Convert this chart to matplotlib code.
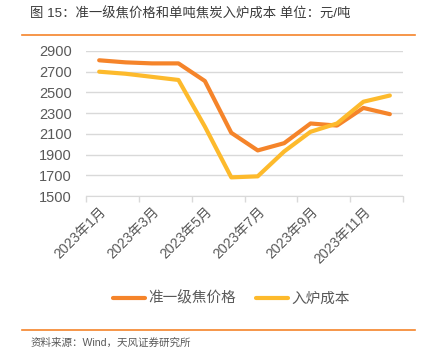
import matplotlib.pyplot as plt
import numpy as np

plt.rcParams['font.family'] = ['Liberation Sans', 'Noto Sans CJK SC', 'DejaVu Sans']

# -------------------------------------------------
# Data
# -------------------------------------------------
months = ['2023年1月', '2023年2月', '2023年3月', '2023年4月', '2023年5月', '2023年6月',
          '2023年7月', '2023年8月', '2023年9月', '2023年10月', '2023年11月', '2023年12月']
coke_price = [2810, 2790, 2780, 2780, 2610, 2110, 1940, 2010, 2200, 2180, 2350, 2290]
furnace_cost = [2700, 2680, 2650, 2620, 2170, 1680, 1690, 1930, 2120, 2200, 2410, 2470]
yticks = [1500, 1700, 1900, 2100, 2300, 2500, 2700, 2900]

orange = '#F5842A'
yellow = '#FDBA2C'
text_gray = '#595959'

# -------------------------------------------------
# Figure
# -------------------------------------------------
fig = plt.figure(figsize=(4.32, 3.64), dpi=100)
ax = fig.add_axes([0.199, 0.4615, 0.734, 0.3985])

x = np.arange(len(months))
ax.plot(x, coke_price, color=orange, lw=3, solid_capstyle='round',
        solid_joinstyle='round', label='准一级焦价格', zorder=3)
ax.plot(x, furnace_cost, color=yellow, lw=3, solid_capstyle='round',
        solid_joinstyle='round', label='入炉成本', zorder=3)

ax.set_xlim(-0.5, len(months) - 0.5)
ax.set_ylim(1500, 2900)
ax.set_yticks(yticks)
ax.grid(axis='y', color='#D9D9D9', lw=1)
ax.set_axisbelow(True)

# group boundaries as tick marks, labels on every second month
ax.set_xticks(np.arange(-0.5, len(months), 2))
ax.set_xticklabels([])
ax.set_xticks(x[::2], minor=True)
ax.set_xticklabels(months[::2], minor=True, rotation=45, ha='right',
                   rotation_mode='anchor', fontsize=10, color=text_gray)
ax.tick_params(axis='x', which='major', length=4, color='#D9D9D9', width=1)
ax.tick_params(axis='x', which='minor', length=0, pad=6)
ax.tick_params(axis='y', length=0, labelsize=10.5, labelcolor=text_gray, pad=10)

for s in ['top', 'right', 'left']:
    ax.spines[s].set_visible(False)
ax.spines['bottom'].set_color('#D9D9D9')

leg = fig.legend(loc='center', bbox_to_anchor=(0.535, 0.18), ncol=2, frameon=False,
                 fontsize=10.5, handlelength=2.2, handletextpad=0.2, columnspacing=1.4)
for t in leg.get_texts():
    t.set_color(text_gray)

# -------------------------------------------------
# Header / footer
# -------------------------------------------------
fig.text(0.07, 0.962, '图 15：准一级焦价格和单吨焦炭入炉成本 单位：元/吨',
         fontsize=9.6, color='#3A3A3A', va='center', fontweight='medium')
fig.add_artist(plt.Line2D([0.051, 0.961], [0.904, 0.904], color=orange, lw=1.2))
fig.add_artist(plt.Line2D([0.051, 0.961], [0.094, 0.094], color=orange, lw=1.2))
fig.text(0.07, 0.058, '资料来源：Wind，天风证券研究所', fontsize=7.6,
         color=text_gray, va='center')

fig.savefig('out.png', dpi=100)
